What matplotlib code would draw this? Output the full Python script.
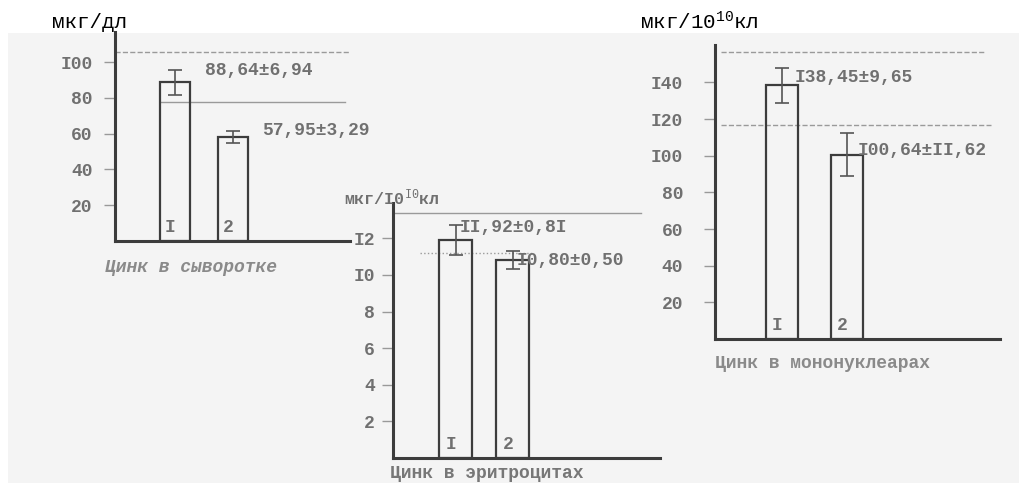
import matplotlib
matplotlib.use("Agg")
import matplotlib.pyplot as plt
from matplotlib.patches import Rectangle

plt.rcParams["mathtext.fontset"] = "custom"
plt.rcParams["mathtext.rm"] = "Liberation Mono"
plt.rcParams["mathtext.it"] = "Liberation Mono"
plt.rcParams["mathtext.bf"] = "Liberation Mono:bold"

# ---------------- data ----------------
groups = ["I", "2"]
serum_mean = [88.64, 57.95]
serum_err = [6.94, 3.29]
serum_labels = ["88,64±6,94", "57,95±3,29"]
serum_ticks = [20, 40, 60, 80, 100]
serum_ticklabels = ["20", "40", "60", "80", "I00"]

ery_mean = [11.92, 10.80]
ery_err = [0.81, 0.50]
ery_labels = ["II,92±0,8I", "I0,80±0,50"]
ery_ticks = [2, 4, 6, 8, 10, 12]
ery_ticklabels = ["2", "4", "6", "8", "I0", "I2"]

mono_mean = [138.45, 100.64]
mono_err = [9.65, 11.62]
mono_labels = ["I38,45±9,65", "I00,64±II,62"]
mono_ticks = [20, 40, 60, 80, 100, 120, 140]
mono_ticklabels = ["20", "40", "60", "80", "I00", "I20", "I40"]

captions = ["Цинк в сыворотке", "Цинк в эритроцитах", "Цинк в мононуклеарах"]

# faint ruled lines visible on the scanned page (value levels)
serum_guides = [105.6, 77.6]
ery_guides = [13.4, 11.2]
mono_guides = [156.6, 116.7]

# ---------------- layout helpers ----------------
W, H = 1019, 483
fig = plt.figure(figsize=(W / 100, H / 100), dpi=100)
fig.patch.set_facecolor("white")

SCAN = "#f4f4f4"
INK = "#3c3c3c"
GREY = "#707070"
MONO = "Liberation Mono"

fig.patches.append(Rectangle((8 / W, 0), 1 - 8 / W, 1 - 33 / H,
                             transform=fig.transFigure, facecolor=SCAN,
                             edgecolor="none", zorder=-10))


def px_axes(left, right, top, bottom):
    return fig.add_axes([left / W, 1 - bottom / H, (right - left) / W, (bottom - top) / H])


def panel(ax, means, errs, labels, ticks, ticklabels, ylim, xlim, width,
          label_offsets, guides, guide_spans, guide_styles, pad):
    x = list(range(len(means)))
    ax.set_facecolor("none")
    ax.set_xlim(*xlim)
    ax.set_ylim(*ylim)
    for s in ["top", "right"]:
        ax.spines[s].set_visible(False)
    for s in ["left", "bottom"]:
        ax.spines[s].set_color(INK)
        ax.spines[s].set_linewidth(2.2)
    ax.set_xticks([])
    ax.set_yticks(ticks)
    ax.set_yticklabels(ticklabels, fontfamily=MONO, fontsize=13, color=GREY,
                       fontweight="bold")
    ax.tick_params(axis="y", direction="out", length=8, width=1, color="#999999", pad=pad)
    for g, span, st in zip(guides, guide_spans, guide_styles):
        ax.axhline(g, xmin=span[0], xmax=span[1], color="#9a9a9a", lw=1, ls=st, zorder=1)
    ax.bar(x, means, width=width, facecolor="none", edgecolor=INK, linewidth=1.6, zorder=2)
    ax.errorbar(x, means, yerr=errs, fmt="none", ecolor="#555555", elinewidth=1.2,
                capsize=5, capthick=1.2, zorder=3)
    for xi, m, lab, off in zip(x, means, labels, label_offsets):
        ax.annotate(lab, xy=(xi + width / 2, m), xytext=off, textcoords="offset pixels",
                    ha="left", va="center", fontfamily=MONO, fontsize=13,
                    fontweight="bold", color=GREY, annotation_clip=False, zorder=4)
    for xi, g in zip(x, groups):
        ax.annotate(g, xy=(xi, 0), xytext=(-5, 5), textcoords="offset pixels",
                    ha="center", va="bottom", fontfamily=MONO, fontsize=13,
                    fontweight="bold", color=GREY, zorder=4)


# panel 1: serum
ax1 = px_axes(115, 350, 32, 241)
panel(ax1, serum_mean, serum_err, serum_labels, serum_ticks, serum_ticklabels,
      (0, 116.8), (-1.03, 3.02), 0.52,
      [(15, 12), (14, 7)], serum_guides, [(0.0, 1.05), (0.19, 0.98)], ["--", "-"], 8)

# panel 2: erythrocytes
ax2 = px_axes(393, 660, 203, 458)
panel(ax2, ery_mean, ery_err, ery_labels, ery_ticks, ery_ticklabels,
      (0, 13.93), (-1.1, 3.58), 0.58,
      [(-13, 12), (-13, 0)], ery_guides, [(0.0, 0.93), (0.1, 0.52)], ["-", ":"], 5)

# panel 3: mononuclears
ax3 = px_axes(715, 1000, 45, 339)
panel(ax3, mono_mean, mono_err, mono_labels, mono_ticks, mono_ticklabels,
      (0, 160.4), (-1.03, 3.35), 0.48,
      [(-3, 8), (-5, 4)], mono_guides, [(0.02, 0.95), (0.02, 0.97)], ["--", "--"], 15)

# captions
fig.text(105 / W, 1 - 268 / H, captions[0], fontfamily=MONO, fontsize=13,
         fontstyle="italic", fontweight="bold", color="#8a8a8a", va="center", ha="left")
fig.text(390 / W, 1 - 473 / H, captions[1], fontfamily=MONO, fontsize=13,
         fontweight="bold", color="#777777", va="center", ha="left")
fig.text(715 / W, 1 - 363 / H, captions[2], fontfamily=MONO, fontsize=13,
         fontweight="bold", color="#8a8a8a", va="center", ha="left")

# unit labels
fig.text(52 / W, 1 - 22 / H, "мкг/дл", fontfamily=MONO, fontsize=15, color="black",
         va="center", ha="left")
fig.text(640 / W, 1 - 22 / H, "мкг/10$^{10}$кл", fontfamily=MONO, fontsize=15,
         color="black", va="center", ha="left")
fig.text(344 / W, 1 - 198 / H, "мкг/I0$^{I0}$кл", fontfamily=MONO, fontsize=12,
         fontweight="bold", color=GREY, va="center", ha="left")

fig.savefig("out.png", dpi=100, facecolor=fig.get_facecolor())
